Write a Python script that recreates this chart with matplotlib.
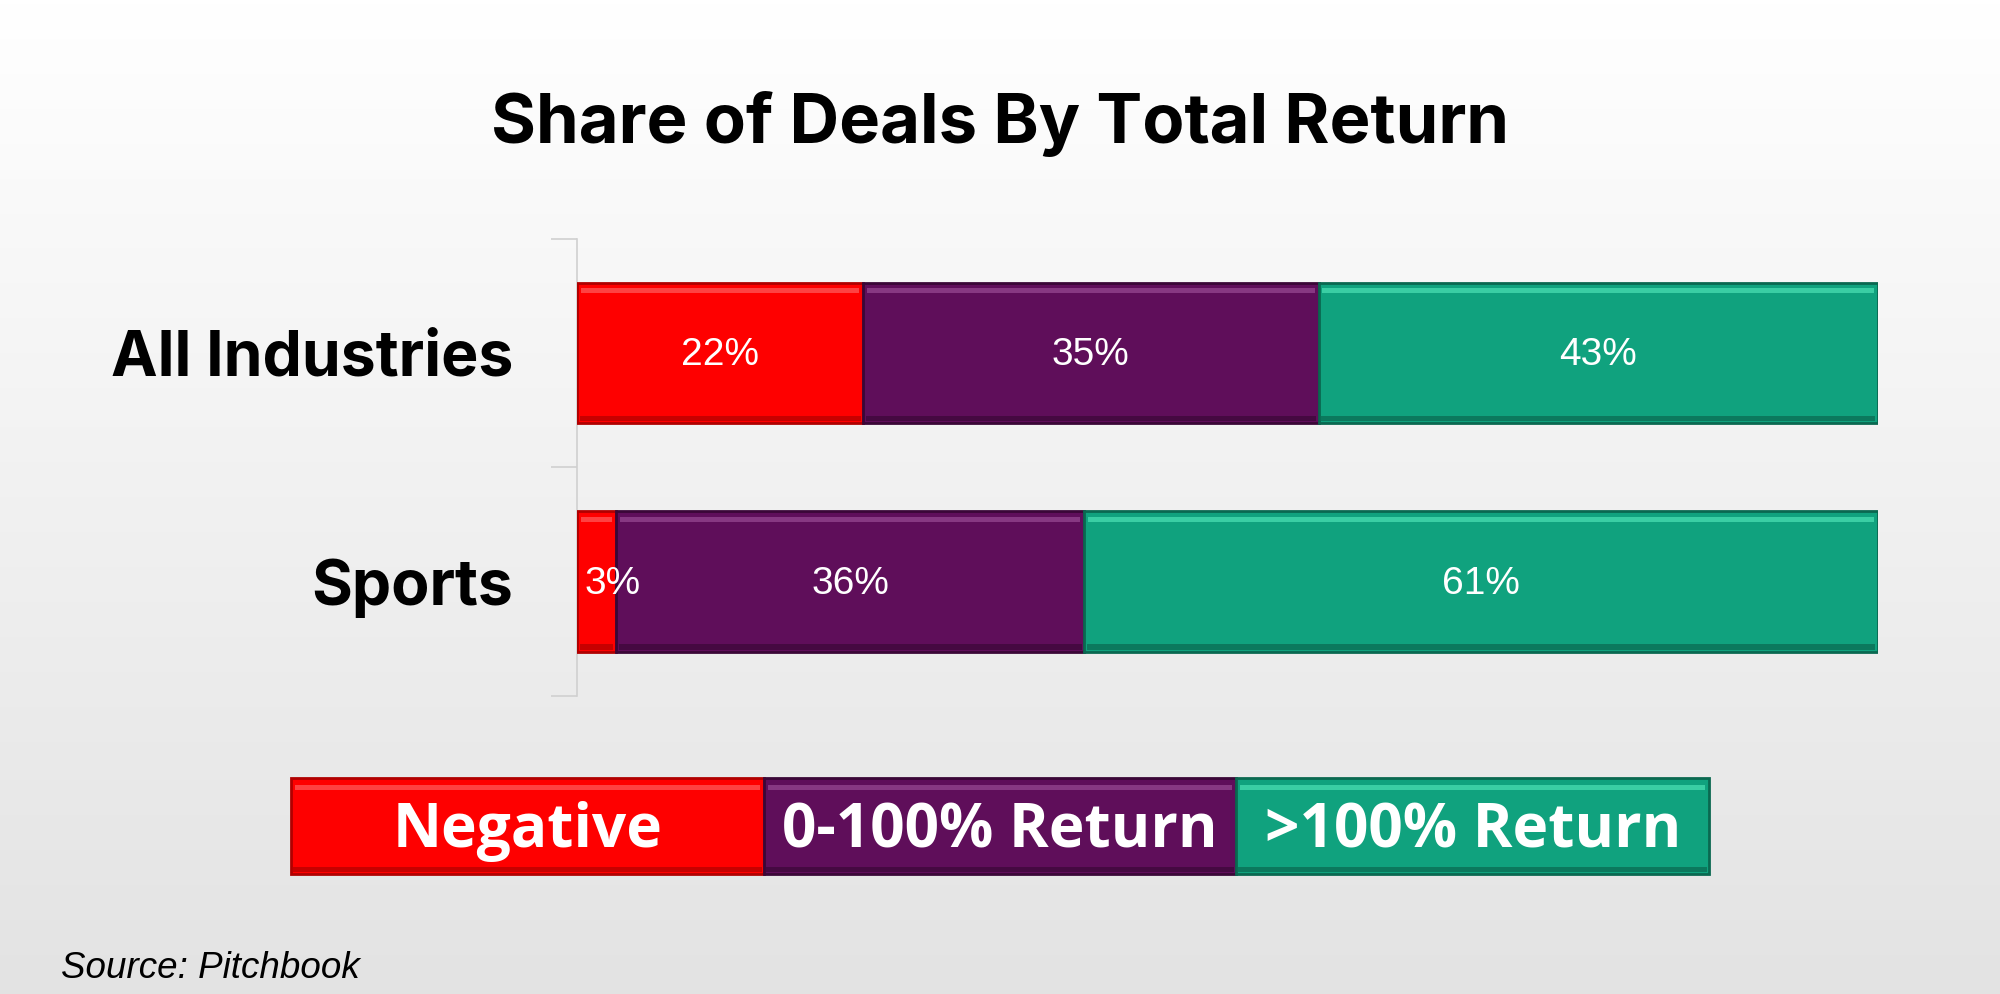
import numpy as np
import matplotlib
matplotlib.use("Agg")
import matplotlib.pyplot as plt
from matplotlib.patches import Rectangle

# ---- data ----
categories = ["All Industries", "Sports"]
series_names = ["Negative", "0-100% Return", ">100% Return"]
negative = [22, 3]
mid_return = [35, 36]
high_return = [43, 61]
series_values = [negative, mid_return, high_return]
colors = ["#fe0000", "#5f0e5a", "#10a27e"]
edge_colors = ["#b00000", "#3a0737", "#0a6850"]
light_colors = ["#ff4a4a", "#8c3d87", "#3fd3a9"]
title = "Share of Deals By Total Return"
source = "Source: Pitchbook"

W, H = 2000, 994
fig = plt.figure(figsize=(W / 100, H / 100), dpi=100)

# background gradient
bg = fig.add_axes([0, 0, 1, 1], zorder=-10)
grad = np.linspace(1.0, 0.0, 256).reshape(-1, 1)
top = np.array([1.0, 1.0, 1.0])
bot = np.array([0.890, 0.890, 0.890])
img = top * grad[..., None] + bot * (1 - grad[..., None])
img = np.repeat(img, 2, axis=1)
bg.imshow(img, aspect="auto", extent=[0, 1, 0, 1], origin="upper")
bg.set_axis_off()

# title
fig.text(0.5, 0.875, title, ha="center", va="center", fontsize=49.5,
         fontweight="bold", family="Inter", color="black")

# main axes
ax = fig.add_axes([0.2885, 0.300, 0.6505, 0.460])
ax.set_facecolor("none")
y = np.arange(len(categories))
left = np.zeros(len(categories))
bar_h = 0.615
for vals, c, ec, lc in zip(series_values, colors, edge_colors, light_colors):
    vals = np.array(vals, dtype=float)
    ax.barh(y, vals, left=left, height=bar_h, color=c,
            edgecolor=ec, linewidth=2.0, zorder=3)
    # bevel highlight (top) and shade (bottom)
    ax.barh(y - bar_h / 2 + 0.035, vals - 0.6, left=left + 0.3, height=0.022,
            color=lc, linewidth=0, zorder=4, alpha=0.9)
    ax.barh(y + bar_h / 2 - 0.02, vals - 0.4, left=left + 0.2, height=0.025,
            color=ec, linewidth=0, zorder=4, alpha=0.7)
    for yi, l, v in zip(y, left, vals):
        ax.text(l + v / 2 if v > 5 else l + 2.7, yi + 0.01, f"{int(v)}%",
                ha="center", va="center", color="white", fontsize=28,
                family="Liberation Sans", zorder=5)
    left = left + vals

ax.set_xlim(0, 100)
ax.set_ylim(len(categories) - 0.5, -0.5)
ax.set_xticks([])
ax.set_yticks(y)
ax.set_yticklabels(categories, fontsize=45, fontweight="bold", family="Inter")
ax.tick_params(axis="y", which="major", length=0, pad=46)
ax.set_yticks(np.arange(len(categories) + 1) - 0.5, minor=True)
ax.tick_params(axis="y", which="minor", length=19, width=1.2, color="#d0d0d0")
for s in ["top", "right", "bottom"]:
    ax.spines[s].set_visible(False)
ax.spines["left"].set_color("#d0d0d0")
ax.spines["left"].set_linewidth(1.2)

# legend boxes
lx0, lx1 = 0.1454, 0.8546
ly0, ly1 = 0.121, 0.217
seg = (lx1 - lx0) / len(series_names)
for i, (name, c, ec, lc) in enumerate(zip(series_names, colors, edge_colors, light_colors)):
    x0 = lx0 + i * seg
    fig.patches.append(Rectangle((x0, ly0), seg, ly1 - ly0,
                                 transform=fig.transFigure, facecolor=c,
                                 edgecolor=ec, linewidth=2.0, zorder=2))
    fig.patches.append(Rectangle((x0 + 0.002, ly1 - 0.012), seg - 0.004, 0.005,
                                 transform=fig.transFigure, facecolor=lc,
                                 linewidth=0, zorder=2.5, alpha=0.9))
    fig.patches.append(Rectangle((x0 + 0.001, ly0 + 0.002), seg - 0.002, 0.005,
                                 transform=fig.transFigure, facecolor=ec,
                                 linewidth=0, zorder=2.5, alpha=0.7))
    fig.text(x0 + seg / 2, (ly0 + ly1) / 2 - 0.006, name, ha="center", va="center",
             color="white", fontsize=43.5, fontweight="bold",
             family="Open Sans", zorder=3)

fig.text(0.0306, 0.016, source, ha="left", va="baseline", fontsize=26.5,
         style="italic", family="Liberation Sans", color="black")

fig.savefig("out.png", dpi=100)
